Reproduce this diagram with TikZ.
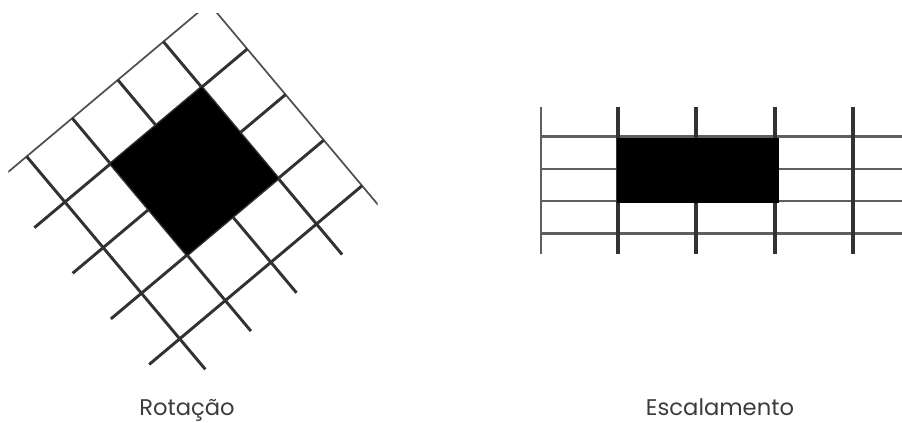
\documentclass[tikz,border=0pt]{standalone}
\usepackage{fontspec}
\setmainfont{Poppins}
\usepackage{tikz}
\definecolor{gridline}{RGB}{50,50,50}
\definecolor{edgeline}{RGB}{80,80,80}
\definecolor{softline}{RGB}{95,95,95}
\definecolor{labeltext}{RGB}{60,60,60}

\begin{document}
\begin{tikzpicture}[x=0.75pt,y=-0.75pt]
  \useasboundingbox (0,0) rectangle (902,423);

  % --- rotated grid ---
  \begin{scope}
    \clip (8.3,13.5) rectangle (377.7,423);
    \begin{scope}[shift={(209,3.4)},x={(28.70pt,-34.19pt)},y={(-34.19pt,-28.70pt)}]
      % outer edges
      \draw[edgeline,line width=1.3pt] (0,0)--(0,4.67);
      \draw[edgeline,line width=1.3pt] (0,0)--(4.67,0);
      \foreach \k in {1,...,4}{
        \draw[gridline,line width=2.2pt] (\k,0)--(\k,4.67);
        \draw[gridline,line width=2.2pt] (0,\k)--(4.67,\k);
      }
      % the turned square
      \fill[black] (1,1)--(3,1)--(3,3)--(1,3)--cycle;
    \end{scope}
  \end{scope}

  % --- scaled grid ---
  \draw[softline,line width=1.8pt] (540.7,106.7)--(540.7,254.3);
  \foreach \y in {136.7,169,201,233.3}
    \draw[softline,line width=1.9pt] (540.7,\y)--(902,\y);
  \foreach \x in {617.7,696,775,853.3}
    \draw[gridline,line width=2.8pt] (\x,106.7)--(\x,254.3);
  % the stretched block
  \fill[black] (616.7,137.7) rectangle (779.3,202.7);

  % labels
  \node[labeltext,anchor=base,inner sep=0pt,font=\fontsize{17}{18}\selectfont] (rotlabel) at (187,416) {Rotação};
  \node[labeltext,anchor=base,inner sep=0pt,font=\fontsize{17}{18}\selectfont] (scalelabel) at (720,416) {Escalamento};
\end{tikzpicture}
\end{document}
